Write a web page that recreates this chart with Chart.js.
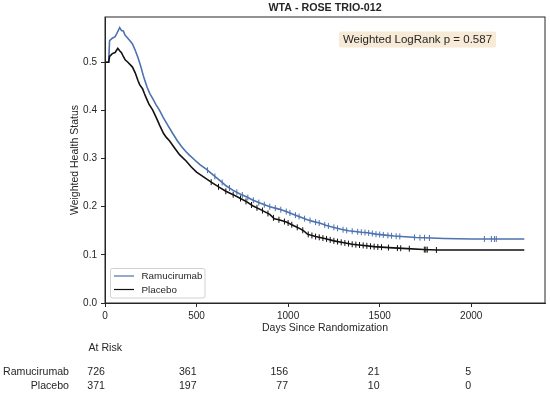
<!DOCTYPE html>
<html>
<head>
<meta charset="utf-8">
<script src="https://cdn.jsdelivr.net/npm/chart.js@4.4.0/dist/chart.umd.min.js"></script>
<style>
  html, body { margin: 0; padding: 0; background: #fff; }
  #wrap { width: 550px; height: 396px; position: relative; }
</style>
</head>
<body>
<div id="wrap"><canvas id="c" width="550" height="396"></canvas></div>
<script>
// ---- data ----
const chartTitle = "WTA - ROSE TRIO-012";
const pValueText = "Weighted LogRank p = 0.587";
const seriesNames = ["Ramucirumab", "Placebo"];

const ramDays = [0, 20, 25, 40, 55, 65, 75, 80, 90, 100, 110, 120, 135, 150, 165, 180, 195, 205, 215, 230, 245, 260, 280, 298, 320, 345, 370, 395, 420, 445, 461, 490, 520, 553, 590, 625, 663, 700, 740, 775, 806, 850, 900, 950, 990, 1030, 1070, 1105, 1140, 1172, 1210, 1250, 1290, 1330, 1354, 1400, 1433, 1480, 1530, 1580, 1619, 1700, 1783, 1850, 2000, 2290];
const ramVals = [0.500, 0.500, 0.545, 0.550, 0.553, 0.560, 0.568, 0.572, 0.566, 0.565, 0.556, 0.552, 0.545, 0.538, 0.525, 0.510, 0.492, 0.478, 0.465, 0.448, 0.435, 0.425, 0.411, 0.400, 0.384, 0.368, 0.352, 0.337, 0.324, 0.313, 0.307, 0.297, 0.287, 0.278, 0.266, 0.255, 0.243, 0.234, 0.226, 0.220, 0.214, 0.207, 0.200, 0.195, 0.190, 0.184, 0.178, 0.173, 0.169, 0.166, 0.161, 0.157, 0.153, 0.150, 0.149, 0.147, 0.146, 0.143, 0.141, 0.139, 0.138, 0.136, 0.135, 0.134, 0.133, 0.133];

const plaDays = [0, 20, 25, 40, 55, 65, 70, 80, 90, 100, 110, 125, 140, 150, 165, 180, 190, 205, 215, 225, 240, 260, 280, 300, 320, 335, 352, 380, 407, 443, 470, 500, 534, 580, 625, 660, 700, 740, 775, 806, 850, 900, 925, 950, 990, 1034, 1062, 1085, 1105, 1150, 1200, 1250, 1290, 1350, 1400, 1470, 1550, 1651, 1740, 1815, 2290];
const plaVals = [0.500, 0.500, 0.512, 0.518, 0.520, 0.526, 0.529, 0.524, 0.520, 0.512, 0.505, 0.500, 0.494, 0.490, 0.478, 0.462, 0.453, 0.445, 0.435, 0.426, 0.413, 0.401, 0.385, 0.368, 0.352, 0.344, 0.337, 0.322, 0.308, 0.295, 0.283, 0.272, 0.263, 0.251, 0.240, 0.232, 0.225, 0.217, 0.210, 0.202, 0.194, 0.184, 0.175, 0.173, 0.168, 0.160, 0.155, 0.150, 0.143, 0.138, 0.134, 0.129, 0.126, 0.122, 0.120, 0.117, 0.115, 0.113, 0.111, 0.110, 0.110];

const ramCensorDays = [560, 600, 640, 680, 720, 750, 780, 810, 840, 870, 900, 930, 960, 990, 1010, 1040, 1060, 1090, 1120, 1150, 1170, 1200, 1220, 1250, 1270, 1300, 1320, 1350, 1380, 1400, 1420, 1440, 1460, 1480, 1500, 1520, 1545, 1565, 1590, 1610, 1690, 1720, 1745, 1772, 2072, 2110, 2127, 2137];
const plaCensorDays = [580, 620, 660, 700, 740, 770, 800, 830, 860, 890, 920, 950, 980, 1000, 1020, 1050, 1080, 1110, 1130, 1150, 1170, 1190, 1210, 1230, 1250, 1270, 1290, 1310, 1330, 1350, 1370, 1390, 1410, 1430, 1450, 1470, 1490, 1510, 1548, 1597, 1615, 1662, 1744, 1752, 1760, 1810];

const xTickValues = [0, 500, 1000, 1500, 2000];
const yTickValues = [0.0, 0.1, 0.2, 0.3, 0.4, 0.5];
const atRiskRam = [726, 361, 156, 21, 5];
const atRiskPla = [371, 197, 77, 10, 0];

// ---- helpers ----
function toPoints(xs, ys) { return xs.map((x, i) => ({ x: x, y: ys[i] })); }
// curve value at a censoring day (value on the drawn segment between the two neighbouring read points)
function curveValueAt(xs, ys, day) {
  for (let i = 1; i < xs.length; i++) {
    if (xs[i] >= day) {
      const t = (day - xs[i - 1]) / (xs[i] - xs[i - 1]);
      return ys[i - 1] + t * (ys[i] - ys[i - 1]);
    }
  }
  return ys[ys.length - 1];
}
function censorPoints(cd, xs, ys) { return cd.map(d => ({ x: d, y: curveValueAt(xs, ys, d) })); }

const BLUE = '#4c72b0';
const BLACK = '#111111';
const AXIS = '#262626';
const TEXT = '#262626';
const FONT = '"Liberation Sans", Arial, Helvetica, sans-serif';

Chart.defaults.font.family = FONT;
Chart.defaults.color = TEXT;

const overlay = {
  id: 'overlay',
  afterDraw(chart) {
    const ctx = chart.ctx;
    const ca = chart.chartArea;
    const xs = chart.scales.x;
    ctx.save();
    // frame (top/right spines)
    ctx.strokeStyle = AXIS;
    ctx.lineWidth = 1;
    ctx.strokeRect(ca.left, ca.top, ca.right - ca.left, ca.bottom - ca.top);

    // title
    ctx.fillStyle = TEXT;
    ctx.font = 'bold 10.7px ' + FONT;
    ctx.textAlign = 'center';
    ctx.textBaseline = 'middle';
    ctx.fillText(chartTitle, (ca.left + ca.right) / 2, 8.5);

    // p-value box
    ctx.font = '11.5px ' + FONT;
    const tw = ctx.measureText(pValueText).width;
    const cx = 417.5, cy = 39.5;
    ctx.fillStyle = '#f7ead6';
    ctx.beginPath();
    if (ctx.roundRect) ctx.roundRect(cx - tw / 2 - 4, cy - 8, tw + 8, 16, 2); else ctx.rect(cx - tw / 2 - 4, cy - 8, tw + 8, 16);
    ctx.fill();
    ctx.fillStyle = TEXT;
    ctx.fillText(pValueText, cx, cy);

    // legend
    const lx = 110.5, ly = 268.5, lw = 94.5, lh = 29.5;
    ctx.fillStyle = 'rgba(255,255,255,0.85)';
    ctx.strokeStyle = '#d0d0d0';
    ctx.lineWidth = 1;
    ctx.beginPath();
    if (ctx.roundRect) ctx.roundRect(lx, ly, lw, lh, 2); else ctx.rect(lx, ly, lw, lh);
    ctx.fill(); ctx.stroke();
    ctx.lineWidth = 1.2;
    ctx.strokeStyle = BLUE;
    ctx.beginPath(); ctx.moveTo(114, 276); ctx.lineTo(134, 276); ctx.stroke();
    ctx.strokeStyle = BLACK;
    ctx.beginPath(); ctx.moveTo(114, 289.5); ctx.lineTo(134, 289.5); ctx.stroke();
    ctx.fillStyle = TEXT;
    ctx.font = '9.8px ' + FONT;
    ctx.textAlign = 'left';
    ctx.fillText(seriesNames[0], 141.5, 276.5);
    ctx.fillText(seriesNames[1], 141.5, 290);

    // axis titles
    ctx.font = '10.5px ' + FONT;
    ctx.textAlign = 'center';
    ctx.fillText('Days Since Randomization', (ca.left + ca.right) / 2, 328);
    ctx.save();
    ctx.translate(75.5, (ca.top + ca.bottom) / 2);
    ctx.rotate(-Math.PI / 2);
    ctx.fillText('Weighted Health Status', 0, 0);
    ctx.restore();

    // at-risk table
    ctx.font = '10.6px ' + FONT;
    ctx.textAlign = 'left';
    ctx.fillText('At Risk', 88.5, 348);
    ctx.textAlign = 'right';
    ctx.fillText(seriesNames[0], 69, 372);
    ctx.fillText(seriesNames[1], 69, 386.5);
    xTickValues.forEach((v, i) => {
      const px = xs.getPixelForValue(v);
      ctx.fillText(String(atRiskRam[i]), px, 372);
      ctx.fillText(String(atRiskPla[i]), px, 386.5);
    });
    ctx.restore();
  }
};

new Chart(document.getElementById('c'), {
  type: 'scatter',
  data: {
    datasets: [
      { label: seriesNames[0], data: toPoints(ramDays, ramVals), showLine: true, stepped: false, tension: 0,
        borderColor: BLUE, borderWidth: 1.6, pointRadius: 0, fill: false, order: 2 },
      { label: seriesNames[1], data: toPoints(plaDays, plaVals), showLine: true, stepped: false, tension: 0,
        borderColor: BLACK, borderWidth: 1.6, pointRadius: 0, fill: false, order: 1 },
      { label: 'ram-censor', data: censorPoints(ramCensorDays, ramDays, ramVals), showLine: false,
        pointStyle: 'line', rotation: 90, pointRadius: 3, borderColor: BLUE, borderWidth: 1, order: 2 },
      { label: 'pla-censor', data: censorPoints(plaCensorDays, plaDays, plaVals), showLine: false,
        pointStyle: 'line', rotation: 90, pointRadius: 3, borderColor: BLACK, borderWidth: 1, order: 1 }
    ]
  },
  options: {
    responsive: false,
    animation: false,
    devicePixelRatio: 1,
    layout: { padding: { left: 0, right: 4, top: 17, bottom: 53 } },
    plugins: { legend: { display: false }, tooltip: { enabled: false }, title: { display: false } },
    scales: {
      x: {
        type: 'linear', min: 0, max: 2403,
        afterFit(s) { s.height = 40; },
        afterBuildTicks(s) { s.ticks = xTickValues.map(v => ({ value: v })); },
        ticks: { includeBounds: false, padding: 3, font: { size: 10 }, color: TEXT, maxRotation: 0,
                 callback: v => String(v) },
        grid: { display: true, drawOnChartArea: false, drawTicks: true, tickLength: 4, color: AXIS },
        border: { display: true, color: AXIS, width: 1 },
        title: { display: false }
      },
      y: {
        type: 'linear', min: 0, max: 0.594,
        afterFit(s) { s.width = 105; },
        afterBuildTicks(s) { s.ticks = yTickValues.map(v => ({ value: v })); },
        ticks: { includeBounds: false, padding: 4, font: { size: 10 }, color: TEXT,
                 callback: v => Number(v).toFixed(1) },
        grid: { display: true, drawOnChartArea: false, drawTicks: true, tickLength: 4, color: AXIS },
        border: { display: true, color: AXIS, width: 1 },
        title: { display: false }
      }
    }
  },
  plugins: [overlay]
});
</script>
</body>
</html>
